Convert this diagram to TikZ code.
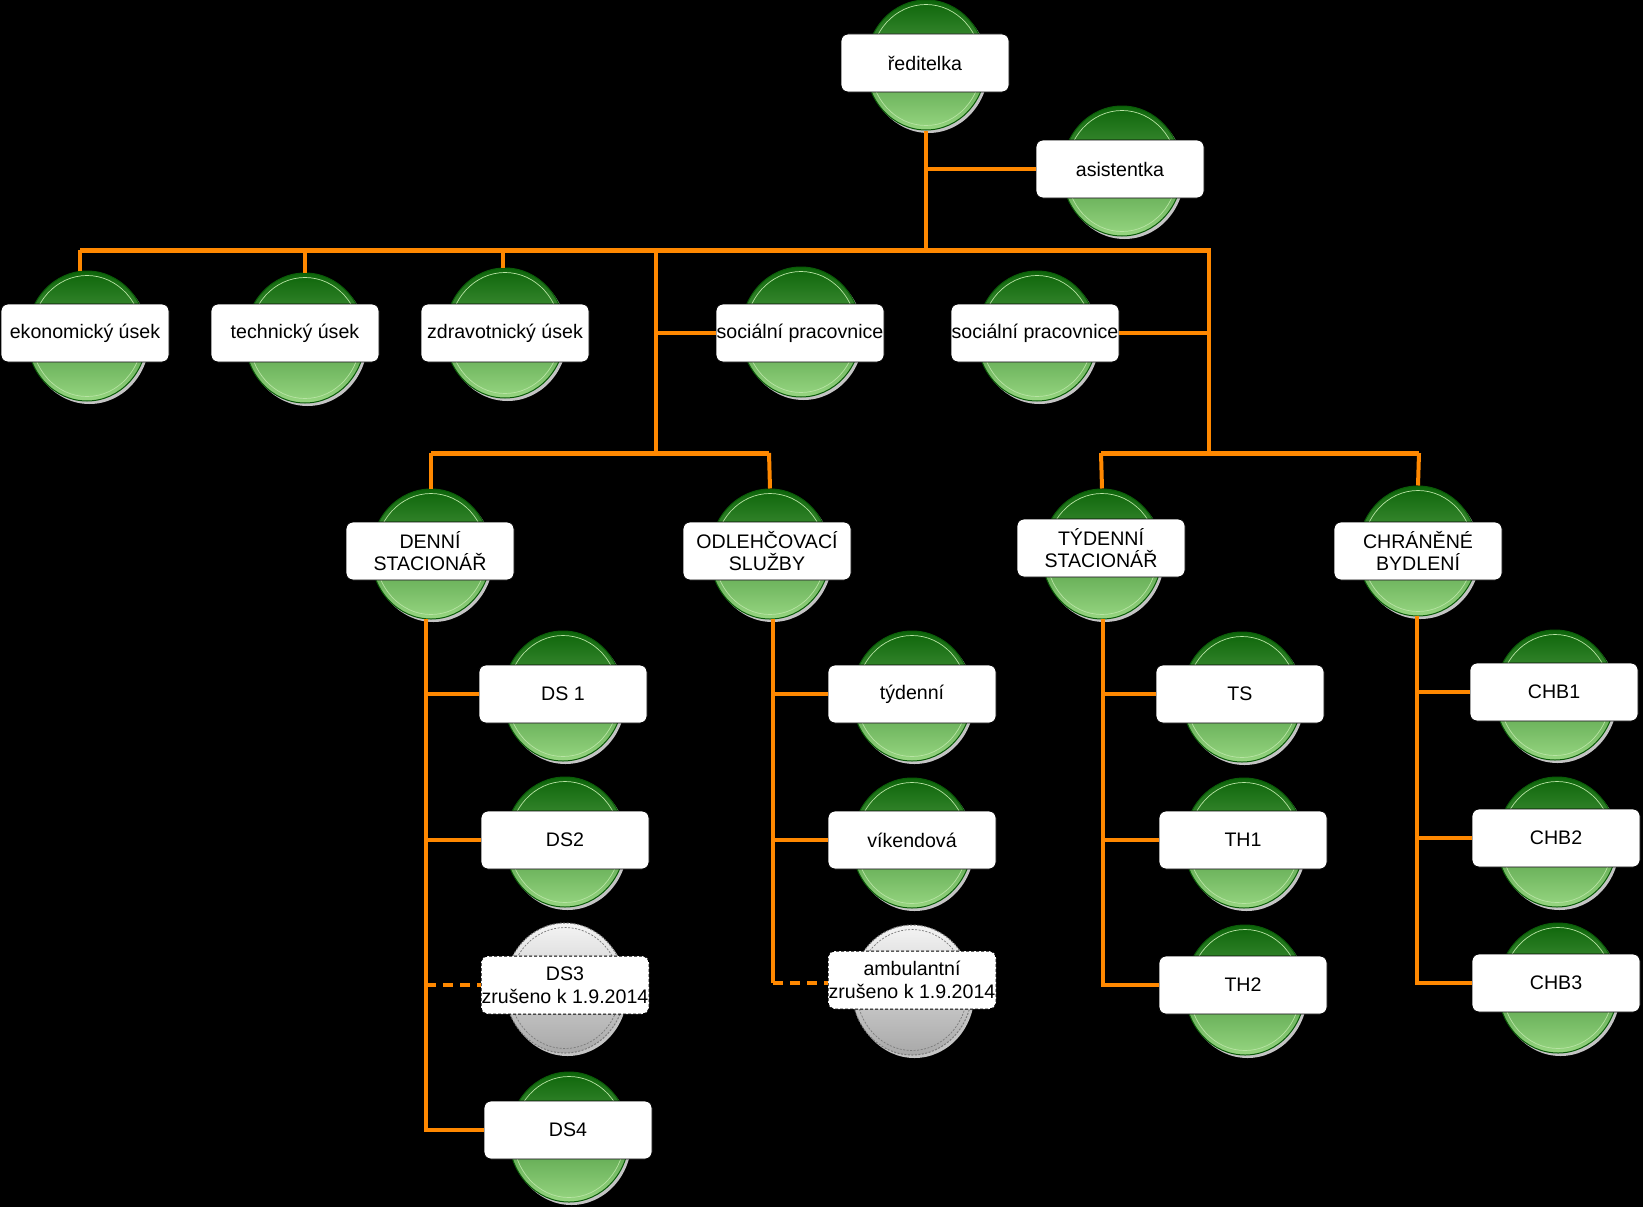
\documentclass[tikz,border=0pt]{standalone}
\usepackage{fontspec}
\setmainfont{Liberation Sans}
\usetikzlibrary{shapes.geometric}
\definecolor{gtop}{HTML}{0D650A}
\definecolor{gbot}{HTML}{97D681}
\definecolor{gedge}{HTML}{0A5A08}
\definecolor{gring}{HTML}{B8E4A4}
\definecolor{xtop}{HTML}{F4F4F4}
\definecolor{xbot}{HTML}{A8A8A8}
\definecolor{xedge}{HTML}{7A7A7A}
\definecolor{shadowc}{HTML}{C4C4C4}
\definecolor{wirec}{HTML}{FF8800}
\tikzset{
  box/.style={draw=black, line width=0.8pt, fill=white, rounded corners=7pt,
    minimum width=168pt, minimum height=58pt, inner sep=0pt, align=center,
    font=\fontsize{19.6}{22.5}\selectfont},
  xbox/.style={box, dash pattern=on 3pt off 2pt, line width=1pt},
  gballst/.style={ellipse, minimum width=120pt, minimum height=130pt, inner sep=0pt,
    draw=gedge, line width=1pt, top color=gtop, bottom color=gbot},
  xballst/.style={ellipse, minimum width=120pt, minimum height=130pt, inner sep=0pt,
    draw=xedge, line width=1pt, dash pattern=on 2pt off 1.5pt, top color=xtop, bottom color=xbot},
  gring/.style={draw=gring, line width=0.7pt},
  xring/.style={draw=xedge, line width=0.7pt, dash pattern=on 2pt off 1.5pt},
  wire/.style={draw=wirec, line width=4pt},
  buswire/.style={draw=wirec, line width=5pt},
  dwire/.style={draw=wirec, line width=4pt, dash pattern=on 10pt off 7pt},
}
\newcommand\gball[3]{%
  \fill[shadowc] (#2+2.5,#3+3) ellipse (60 and 65);
  \node[gballst] (#1) at (#2,#3) {};
  \draw[gring] (#2,#3) ellipse (55.5 and 60.5);
}
\newcommand\xball[3]{%
  \fill[shadowc] (#2+2.5,#3+3) ellipse (60 and 65);
  \node[xballst] (#1) at (#2,#3) {};
  \draw[xring] (#2,#3) ellipse (55.5 and 60.5);
}
\begin{document}
\begin{tikzpicture}[x=1pt,y=-1pt]
\fill[black] (0,0) rectangle (1643,1207);
\useasboundingbox (0,0) rectangle (1643,1207);

% ---- balls ----
\gball{c-red}{926}{65}
\gball{c-asi}{1122}{171}
\gball{c-eko}{87}{336}
\gball{c-tech}{305}{338}
\gball{c-zdr}{505}{333}
\gball{c-soc1}{801}{332}
\gball{c-soc2}{1037}{336}
\gball{c-den}{431}{554}
\gball{c-odl}{770}{554}
\gball{c-tyd}{1102}{554}
\gball{c-chr}{1418}{551}
\gball{c-ds1}{563}{696}
\gball{c-ds2}{565}{842}
\xball{c-ds3}{565}{988}
\gball{c-ds4}{569}{1137}
\gball{c-tden}{912}{696}
\gball{c-vik}{912}{843}
\xball{c-amb}{912}{990}
\gball{c-ts}{1242}{697}
\gball{c-th1}{1244}{843}
\gball{c-th2}{1245}{990}
\gball{c-chb1}{1555}{695}
\gball{c-chb2}{1557}{842}
\gball{c-chb3}{1558}{988}

% ---- boxes ----
\node[box] (red) at (925,63) {ředitelka};
\node[box] (asi) at (1120,169) {asistentka};
\node[box] (eko) at (85,333) {ekonomický úsek};
\node[box] (tech) at (295,333) {technický úsek};
\node[box] (zdr) at (505,333) {zdravotnický úsek};
\node[box] (soc1) at (800,333) {sociální pracovnice};
\node[box] (soc2) at (1035,333) {sociální pracovnice};
\node[box] (den) at (430,551) {DENNÍ\\STACIONÁŘ};
\node[box] (odl) at (767,551) {ODLEHČOVACÍ\\SLUŽBY};
\node[box] (tyd) at (1101,548) {TÝDENNÍ\\STACIONÁŘ};
\node[box] (chr) at (1418,551) {CHRÁNĚNÉ\\BYDLENÍ};
\node[box] (ds1) at (563,694) {DS 1};
\node[box] (ds2) at (565,840) {DS2};
\node[xbox] (ds3) at (565,985) {DS3\\zrušeno k 1.9.2014};
\node[box] (ds4) at (568,1130) {DS4};
\node[box] (tden) at (912,694) {týdenní};
\node[box] (vik) at (912,840) {víkendová};
\node[xbox] (amb) at (912,980) {ambulantní\\zrušeno k 1.9.2014};
\node[box] (ts) at (1240,694) {TS};
\node[box] (th1) at (1243,840) {TH1};
\node[box] (th2) at (1243,985) {TH2};
\node[box] (chb1) at (1554,692) {CHB1};
\node[box] (chb2) at (1556,838) {CHB2};
\node[box] (chb3) at (1556,983) {CHB3};

% ---- connectors ----
\coordinate (busL) at (80,250);
\coordinate (busR) at (1211,250);
\coordinate (vL) at (656,250);
\coordinate (vR) at (1209,250);
\coordinate (lbL) at (431,453);
\coordinate (lbR) at (769,453);
\coordinate (rbL) at (1101,453);
\coordinate (rbR) at (1419,453);
\coordinate (tDen) at (426,619);
\coordinate (tOdl) at (773,619);
\coordinate (tTyd) at (1103,619);
\coordinate (tChr) at (1417,616);

\draw[wire] (c-red.south) -- (c-red.south |- busL);
\draw[wire] (c-red.south |- asi.west) -- (asi.west);
\draw[buswire] (busL) -- (busR);
\draw[wire] (busL) -- (busL |- c-eko.north);
\draw[wire] (c-tech.north |- busL) -- (c-tech.north);
\draw[wire] (503,250) -- (503,268);
\draw[wire] (vL) -- (vL |- lbL);
\draw[wire] (vL |- soc1.west) -- (soc1.west);
\draw[wire] (vR) -- (vR |- rbL);
\draw[wire] (soc2.east) -- (soc2.east -| vR);
\draw[buswire] (lbL) -- (lbR);
\draw[buswire] (rbL) -- (rbR);
\draw[wire] (lbL) -- (c-den.north);
\draw[wire] (lbR) -- (c-odl.north);
\draw[wire] (rbL) -- (c-tyd.north);
\draw[wire] (rbR) -- (c-chr.north);

\draw[wire] (tDen) |- (ds4.west);
\draw[wire] (tDen |- ds1.west) -- (ds1.west);
\draw[wire] (tDen |- ds2.west) -- (ds2.west);
\draw[dwire] (tDen |- ds3.west) -- (ds3.west);

\draw[wire] (tOdl) -- (tOdl |- 0,983);
\draw[wire] (tOdl |- tden.west) -- (tden.west);
\draw[wire] (tOdl |- vik.west) -- (vik.west);
\draw[dwire] (tOdl |- 0,983) -- (amb.west |- 0,983);

\draw[wire] (tTyd) |- (th2.west);
\draw[wire] (tTyd |- ts.west) -- (ts.west);
\draw[wire] (tTyd |- th1.west) -- (th1.west);

\draw[wire] (tChr) |- (chb3.west);
\draw[wire] (tChr |- chb1.west) -- (chb1.west);
\draw[wire] (tChr |- chb2.west) -- (chb2.west);
\end{tikzpicture}
\end{document}
